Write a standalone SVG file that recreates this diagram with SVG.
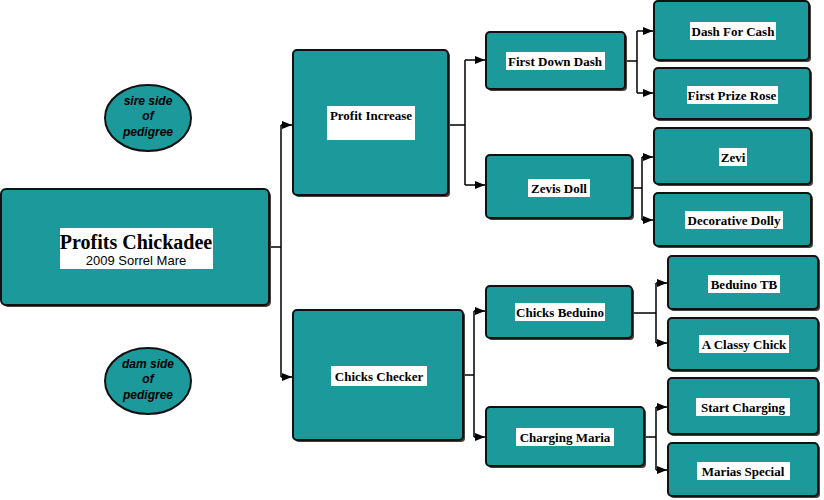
<svg xmlns="http://www.w3.org/2000/svg" width="824" height="500" viewBox="0 0 824 500">
<defs>
<style>
.n{fill:#1c9a9b;stroke:#111;stroke-width:2}
.sh{fill:#4a3f3a}
.lb{fill:#fff}
.t{font-family:"Liberation Serif",serif;font-weight:bold;font-size:13px;text-anchor:middle;fill:#000}
.e{font-family:"Liberation Sans",sans-serif;font-weight:bold;font-style:italic;font-size:12px;text-anchor:middle;fill:#000}
.c{fill:none;stroke:#000;stroke-width:1.5}
</style>
<marker id="a" markerWidth="10" markerHeight="8" refX="10" refY="4" orient="auto" markerUnits="userSpaceOnUse"><path d="M0,0L10,4L0,8z" fill="#000"/></marker>
</defs>
<rect width="824" height="500" fill="#fff"/>
<g id="connectors" class="c">
<path d="M269,247H281M281,125V377"/>
<path d="M281,125H292" marker-end="url(#a)"/>
<path d="M281,377H292" marker-end="url(#a)"/>
<path d="M448,125H465M465,60V185"/>
<path d="M465,60H485" marker-end="url(#a)"/>
<path d="M465,185H485" marker-end="url(#a)"/>
<path d="M463,375H474M474,311V437"/>
<path d="M474,311H485" marker-end="url(#a)"/>
<path d="M474,437H485" marker-end="url(#a)"/>
<path d="M625,61H637M637,31V93"/>
<path d="M637,31H653" marker-end="url(#a)"/>
<path d="M637,93H653" marker-end="url(#a)"/>
<path d="M632,188H642M642,157V220"/>
<path d="M642,157H653" marker-end="url(#a)"/>
<path d="M642,220H653" marker-end="url(#a)"/>
<path d="M632,313H656M656,283V343"/>
<path d="M656,283H667" marker-end="url(#a)"/>
<path d="M656,343H667" marker-end="url(#a)"/>
<path d="M644,437H656M656,407V470"/>
<path d="M656,407H667" marker-end="url(#a)"/>
<path d="M656,470H667" marker-end="url(#a)"/>
</g>
<g id="sire"><ellipse cx="148" cy="118" rx="43" ry="33" class="n" stroke-width="1.5"/><text class="e" x="148" y="105">sire side</text><text class="e" x="148" y="120">of</text><text class="e" x="148" y="136">pedigree</text></g>
<g id="dam"><ellipse cx="148" cy="381" rx="43" ry="33" class="n" stroke-width="1.5"/><text class="e" x="148" y="368">dam side</text><text class="e" x="148" y="383">of</text><text class="e" x="148" y="399">pedigree</text></g>
<g id="root"><rect x="3" y="191" width="268" height="116" rx="5" class="sh"/><rect x="1" y="189" width="268" height="116" rx="5" class="n"/><rect x="60" y="228" width="153" height="41" class="lb"/><text class="t" x="136" y="249" style="font-size:20px">Profits Chickadee</text><text x="136" y="265" style="font-family:'Liberation Sans',sans-serif;font-size:13px;text-anchor:middle">2009 Sorrel Mare</text></g>
<g id="profit"><rect x="295" y="52" width="155" height="145" rx="4" class="sh"/><rect x="293" y="50" width="155" height="145" rx="4" class="n"/><rect x="327" y="106" width="88" height="34" class="lb"/><text class="t" x="371" y="120">Profit Increase</text></g>
<g id="checker"><rect x="295" y="312" width="170" height="130" rx="4" class="sh"/><rect x="293" y="310" width="170" height="130" rx="4" class="n"/><rect x="331" y="366" width="96" height="20" class="lb"/><text class="t" x="379" y="381">Chicks Checker</text></g>
<g id="fdd"><rect x="488" y="34" width="139" height="57" rx="4" class="sh"/><rect x="486" y="32" width="139" height="57" rx="4" class="n"/><rect x="506" y="52" width="99" height="18" class="lb"/><text class="t" x="555" y="66">First Down Dash</text></g>
<g id="zevisdoll"><rect x="488" y="157" width="146" height="63" rx="4" class="sh"/><rect x="486" y="155" width="146" height="63" rx="4" class="n"/><rect x="528" y="179" width="62" height="18" class="lb"/><text class="t" x="559" y="193">Zevis Doll</text></g>
<g id="beduino"><rect x="488" y="288" width="146" height="52" rx="4" class="sh"/><rect x="486" y="286" width="146" height="52" rx="4" class="n"/><rect x="515" y="303" width="90" height="18" class="lb"/><text class="t" x="560" y="317">Chicks Beduino</text></g>
<g id="maria"><rect x="488" y="409" width="158" height="59" rx="4" class="sh"/><rect x="486" y="407" width="158" height="59" rx="4" class="n"/><rect x="516" y="428" width="98" height="18" class="lb"/><text class="t" x="565" y="442">Charging Maria</text></g>
<g id="dfc"><rect x="656" y="3" width="155" height="59" rx="4" class="sh"/><rect x="654" y="1" width="155" height="59" rx="4" class="n"/><rect x="690" y="22" width="86" height="18" class="lb"/><text class="t" x="733" y="36">Dash For Cash</text></g>
<g id="fpr"><rect x="656" y="70" width="156" height="51" rx="4" class="sh"/><rect x="654" y="68" width="156" height="51" rx="4" class="n"/><rect x="687" y="86" width="91" height="18" class="lb"/><text class="t" x="732" y="100">First Prize Rose</text></g>
<g id="zevi"><rect x="656" y="130" width="157" height="56" rx="4" class="sh"/><rect x="654" y="128" width="157" height="56" rx="4" class="n"/><rect x="719" y="148" width="28" height="18" class="lb"/><text class="t" x="733" y="162">Zevi</text></g>
<g id="dolly"><rect x="656" y="195" width="157" height="53" rx="4" class="sh"/><rect x="654" y="193" width="157" height="53" rx="4" class="n"/><rect x="685" y="211" width="98" height="18" class="lb"/><text class="t" x="734" y="225">Decorative Dolly</text></g>
<g id="btb"><rect x="670" y="258" width="150" height="53" rx="4" class="sh"/><rect x="668" y="256" width="150" height="53" rx="4" class="n"/><rect x="708" y="275" width="72" height="18" class="lb"/><text class="t" x="744" y="289">Beduino TB</text></g>
<g id="classy"><rect x="670" y="320" width="150" height="52" rx="4" class="sh"/><rect x="668" y="318" width="150" height="52" rx="4" class="n"/><rect x="699" y="335" width="90" height="18" class="lb"/><text class="t" x="744" y="349">A Classy Chick</text></g>
<g id="start"><rect x="670" y="380" width="150" height="56" rx="4" class="sh"/><rect x="668" y="378" width="150" height="56" rx="4" class="n"/><rect x="696" y="398" width="94" height="18" class="lb"/><text class="t" x="743" y="412">Start Charging</text></g>
<g id="special"><rect x="670" y="445" width="150" height="53" rx="4" class="sh"/><rect x="668" y="443" width="150" height="53" rx="4" class="n"/><rect x="697" y="462" width="93" height="18" class="lb"/><text class="t" x="743" y="476">Marias Special</text></g>
</svg>
